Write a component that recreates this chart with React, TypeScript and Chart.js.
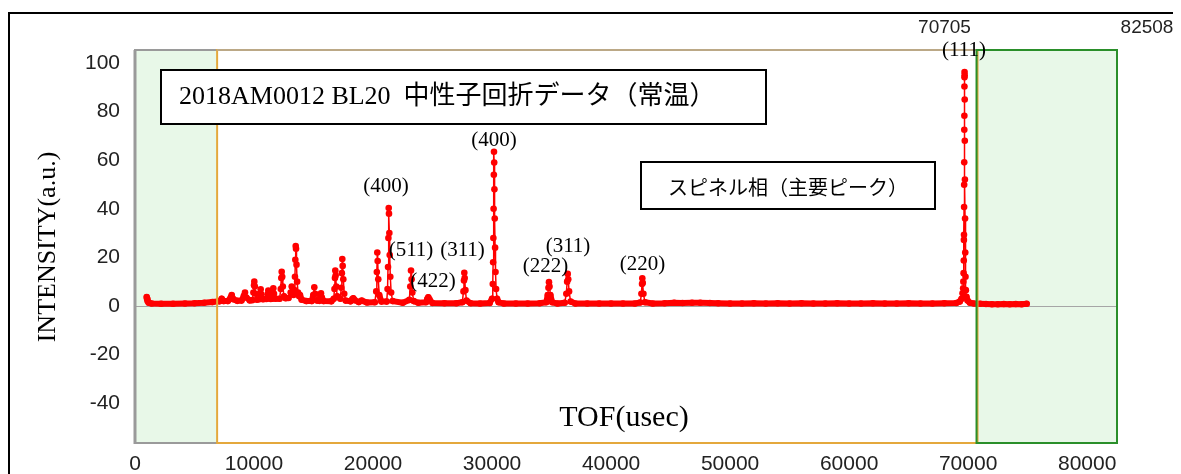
import React, { useEffect, useRef } from "react";
import { Chart, registerables } from "chart.js";

Chart.register(...registerables);

// ---------- data ----------
const tofUsec = [
  983, 1010, 1060, 1150, 1400, 2200, 3200, 4200, 5000, 5800, 6500,
  7100, 7285, 7450, 7800, 8050, 8125, 8250, 8600, 8950, 9150, 9242, 9350, 9650,
  9850, 9950, 10000, 10024, 10070, 10130, 10250, 10450, 10520, 10561, 10620, 10750,
  11050, 11150, 11200, 11270, 11400, 11520, 11580, 11620, 11680, 11800,
  12150, 12250, 12290, 12326, 12370, 12420, 12520, 12650, 12900, 13080, 13166, 13250, 13320,
  13400, 13440, 13470, 13502, 13530, 13570, 13620, 13700, 13800, 13863, 14000, 14400,
  14850, 14980, 15065, 15140, 15300, 15500, 15580, 15628, 15700, 15850,
  16500, 16700, 16760, 16800, 16829, 16860, 16910, 16990,
  17250, 17330, 17380, 17418, 17450, 17500, 17580, 17700,
  18100, 18250, 18342, 18450, 18800, 19047, 19500,
  20150, 20270, 20320, 20358, 20390, 20440, 20520, 20700,
  21150, 21220, 21260, 21290, 21316, 21340, 21370, 21400, 21450, 21520, 21650,
  22500, 23050, 23130, 23190, 23240, 23300, 23420, 23800,
  24450, 24560, 24643, 24750, 25000, 26000, 27000,
  27500, 27600, 27640, 27668, 27700, 27760, 27850, 28200, 29000,
  29800, 30000, 30060, 30090, 30110, 30130, 30150, 30163, 30180, 30200, 30225, 30255, 30290, 30340, 30420, 30550, 31000,
  32000, 33000, 34000, 34550, 34680, 34740, 34784, 34830, 34900, 35050, 35500,
  36100, 36240, 36310, 36356, 36400, 36470, 36600, 37000,
  38000, 39000, 40000, 41000, 42000, 42450, 42550, 42600, 42624, 42660, 42720, 42850, 43500,
  44500, 45300, 46000, 46800, 47500, 48300, 49000,
  50000, 51000, 52000, 53000, 54000, 55000, 56000, 57000, 58000, 59000,
  60000, 61000, 62000, 63000, 64000, 65000, 66000, 67000, 68000, 69000,
  69300, 69450, 69530, 69580, 69600, 69620, 69635, 69645, 69652, 69660, 69666, 69672, 69678, 69684, 69690, 69695, 69700,
  69706, 69712, 69720, 69730, 69742, 69758, 69780, 69810, 69860, 69950, 70150, 70500,
  71000, 71500, 72000, 72500, 73000, 73500, 74000, 74500, 74920,
];

const intensity = [
  3.7, 3.0, 2.0, 1.3, 1.0, 0.9, 0.9, 1.0, 1.1, 1.3, 1.6,
  1.9, 3.0, 2.0, 2.0, 3.5, 4.5, 2.8, 2.1, 2.2, 4.2, 5.5, 3.5, 2.3,
  2.4, 5.5, 8.5, 10.0, 8.0, 5.0, 2.6, 2.8, 5.0, 6.9, 4.8, 2.8,
  2.9, 4.8, 6.3, 4.2, 2.9, 3.0, 5.5, 7.3, 5.0, 3.0,
  3.0, 7.0, 11.5, 14.1, 12.0, 8.0, 4.0, 3.2, 3.3, 5.5, 8.0, 6.0, 4.5,
  6.5, 12.0, 19.0, 24.7, 23.5, 17.0, 10.0, 5.5, 4.0, 4.5, 2.6, 2.0,
  2.0, 4.5, 7.7, 5.0, 2.2, 2.1, 4.0, 5.2, 3.5, 2.0,
  1.9, 3.0, 7.0, 11.5, 14.6, 12.5, 8.0, 4.0,
  3.0, 7.5, 13.5, 19.3, 16.5, 11.0, 5.0, 2.2,
  1.9, 2.7, 3.2, 2.4, 1.6, 2.2, 1.4,
  1.5, 6.0, 14.0, 22.0, 18.5, 11.0, 4.5, 1.8,
  1.8, 7.0, 16.0, 28.0, 40.3, 38.0, 30.0, 21.0, 12.0, 5.5, 2.0,
  1.3, 2.5, 8.0, 14.6, 11.0, 5.5, 2.0, 1.3,
  1.5, 2.8, 3.6, 2.6, 1.2, 1.1, 1.1,
  1.5, 6.0, 10.5, 13.7, 11.5, 6.5, 2.2, 1.1, 1.0,
  1.2, 3.0, 9.0, 18.0, 28.0, 40.0, 54.0, 63.5, 59.0, 48.0, 36.0, 24.0, 14.0, 7.0, 3.0, 1.5, 1.0,
  1.0, 1.0, 1.1, 1.5, 4.5, 7.5, 9.8, 8.0, 4.5, 1.5, 1.0,
  1.3, 5.0, 10.0, 13.2, 11.0, 6.0, 1.8, 1.0,
  1.0, 1.0, 1.0, 1.0, 1.0, 1.4, 5.0, 9.0, 11.4, 9.5, 5.0, 1.5, 1.0,
  1.1, 1.3, 1.2, 1.35, 1.3, 1.2, 1.1,
  1.0, 1.0, 1.1, 1.0, 1.1, 1.0, 1.1, 1.0, 1.0, 1.1,
  1.0, 1.0, 1.1, 1.0, 1.0, 1.1, 1.0, 1.0, 1.1, 1.2,
  1.8, 3.0, 5.2, 7.3, 10.0, 13.5, 18.7, 27.2, 29.3, 40.7, 49.9, 59.1, 72.5, 78.3, 90.3, 94.1, 96.3,
  95.0, 85.0, 68.0, 52.0, 36.0, 22.0, 12.0, 6.5, 3.8, 2.2, 1.3, 1.0,
  0.9, 0.8, 0.7, 0.7, 0.8, 0.7, 0.8, 0.7, 0.9,
];

const xTicks = [0, 10000, 20000, 30000, 40000, 50000, 60000, 70000, 80000];
const yTicks = [-40, -20, 0, 20, 40, 60, 80, 100];
const xRange = [0, 82508];
const yRange = [-56.4, 105.35];

// analysis window bounds (TOF)
const regionBounds = [0, 6900, 70705, 82508];
const boundLabels = ["70705", "82508"];

const peakLabels = ["(400)", "(400)", "(511)", "(311)", "(422)", "(222)", "(311)", "(220)", "(111)"];
const peakLabelTof = [21089, 30163, 23190, 27517, 25038, 34490, 36381, 42640, 69653];
const peakLabelInt = [49.0, 68.3, 23.0, 23.0, 10.0, 16.2, 24.4, 17.2, 105.3];

const titleText = "2018AM0012 BL20  中性子回折データ（常温）";
const noteText = "スピネル相（主要ピーク）";
const yTitle = "INTENSITY(a.u.)";
const xTitle = "TOF(usec)";

const SERIF = "'Liberation Serif', 'Noto Sans CJK JP', serif";
const SANS = "'Liberation Sans', Arial, sans-serif";

const decorPlugin = {
  id: "decor",
  beforeDatasetsDraw(chart: any) {
    const { ctx, chartArea: a, scales } = chart;
    const x = scales.x, y = scales.y;
    const px = regionBounds.map((v) => x.getPixelForValue(v));
    ctx.save();
    ctx.fillStyle = "#e8f8e8";
    ctx.fillRect(px[0], a.top, px[1] - px[0], a.bottom - a.top);
    ctx.fillRect(px[2], a.top, px[3] - px[2], a.bottom - a.top);
    const y0 = Math.round(y.getPixelForValue(0)) + 0.5;
    ctx.strokeStyle = "#a6a6a6";
    ctx.lineWidth = 1;
    ctx.beginPath();
    ctx.moveTo(a.left, y0);
    ctx.lineTo(a.right, y0);
    ctx.stroke();
    ctx.restore();
  },
  afterDatasetsDraw(chart: any) {
    const { ctx, chartArea: a, scales } = chart;
    const x = scales.x;
    const px = regionBounds.map((v) => x.getPixelForValue(v));
    const h = a.bottom - a.top;
    ctx.save();
    ctx.strokeStyle = "#9a9a9a";
    ctx.lineWidth = 2;
    ctx.strokeRect(a.left, a.top, a.right - a.left, h);
    ctx.lineWidth = 3;
    ctx.beginPath();
    ctx.moveTo(a.left, a.top);
    ctx.lineTo(a.left, a.bottom + 1);
    ctx.stroke();
    ctx.lineWidth = 2;
    ctx.strokeStyle = "#e4a83c";
    ctx.strokeRect(px[1], a.top, px[2] - px[1] + 1, h);
    ctx.strokeStyle = "#bba886";
    ctx.beginPath();
    ctx.moveTo(px[1], a.top);
    ctx.lineTo(px[2], a.top);
    ctx.stroke();
    ctx.strokeStyle = "#2a8f2a";
    ctx.strokeRect(px[2], a.top, px[3] - px[2], h);
    ctx.restore();
  },
  afterDraw(chart: any) {
    const { ctx, scales, width } = chart;
    const x = scales.x, y = scales.y;
    ctx.save();
    ctx.strokeStyle = "#000";
    ctx.lineWidth = 2;
    ctx.beginPath();
    ctx.moveTo(1, chart.height);
    ctx.lineTo(1, 5);
    ctx.lineTo(width, 5);
    ctx.stroke();

    ctx.fillStyle = "#fff";
    ctx.fillRect(153, 62, 605, 54);
    ctx.lineWidth = 2;
    ctx.strokeRect(153, 62, 605, 54);
    ctx.fillStyle = "#000";
    ctx.font = `26px ${SERIF}`;
    ctx.textAlign = "left";
    ctx.textBaseline = "alphabetic";
    ctx.fillText(titleText, 171, 96);

    ctx.fillStyle = "#fff";
    ctx.fillRect(633, 154, 294, 47);
    ctx.strokeRect(633, 154, 294, 47);
    ctx.fillStyle = "#000";
    ctx.font = `20px 'Noto Sans CJK JP', sans-serif`;
    ctx.textAlign = "center";
    ctx.textBaseline = "middle";
    ctx.fillText(noteText, 780, 179);

    ctx.font = `21px ${SERIF}`;
    peakLabels.forEach((t, i) => {
      ctx.fillText(t, x.getPixelForValue(peakLabelTof[i]), y.getPixelForValue(peakLabelInt[i]));
    });

    ctx.font = `19px ${SANS}`;
    ctx.fillStyle = "#222";
    ctx.fillText(boundLabels[0], x.getPixelForValue(regionBounds[2]) - 32, 20);
    ctx.fillText(boundLabels[1], x.getPixelForValue(regionBounds[3]) + 30, 20);

    ctx.fillStyle = "#000";
    ctx.font = `30px ${SERIF}`;
    ctx.fillText(xTitle, 616, 410);
    ctx.translate(40, 239);
    ctx.rotate(-Math.PI / 2);
    ctx.font = `26px ${SERIF}`;
    ctx.fillText(yTitle, 0, 0);
    ctx.restore();
  },
};

export default function App() {
  const ref = useRef<HTMLCanvasElement | null>(null);
  useEffect(() => {
    if (!ref.current) return;
    const points = tofUsec.map((t, i) => ({ x: t, y: intensity[i] }));
    const chart = new Chart(ref.current, {
      type: "line",
      data: {
        datasets: [
          {
            data: points,
            borderColor: "#ff0000",
            backgroundColor: "#ff0000",
            pointBackgroundColor: "#ff0000",
            pointBorderColor: "#ff0000",
            pointRadius: 3.3,
            pointBorderWidth: 0,
            pointHoverRadius: 0,
            borderWidth: 1.5,
            tension: 0,
            borderJoinStyle: "round",
            borderCapStyle: "round",
            segment: {
              borderWidth: (c: any) =>
                Math.max(c.p0.parsed.y, c.p1.parsed.y) < 4.6 ? 6 : 1.5,
            },
          } as any,
        ],
      },
      options: {
        responsive: false,
        animation: false,
        events: [],
        devicePixelRatio: 1,
        layout: { padding: { left: 0, right: 64, top: 42, bottom: 0 } },
        plugins: { legend: { display: false }, tooltip: { enabled: false } },
        scales: {
          x: {
            type: "linear",
            min: xRange[0],
            max: xRange[1],
            grid: { display: false, drawTicks: false },
            border: { display: false },
            afterBuildTicks: (axis: any) => {
              axis.ticks = xTicks.map((v) => ({ value: v }));
            },
            afterFit: (axis: any) => {
              axis.height = 31;
            },
            ticks: {
              padding: 9,
              maxRotation: 0,
              autoSkip: false,
              color: "#222",
              font: { family: SANS, size: 21 },
              callback: (v: any) => String(v),
            },
          },
          y: {
            type: "linear",
            min: yRange[0],
            max: yRange[1],
            grid: { display: false, drawTicks: false },
            border: { display: false },
            afterBuildTicks: (axis: any) => {
              axis.ticks = yTicks.map((v) => ({ value: v }));
            },
            afterFit: (axis: any) => {
              axis.width = 127;
            },
            ticks: {
              padding: 15,
              color: "#222",
              font: { family: SANS, size: 21 },
              callback: (v: any) => String(v),
            },
          },
        },
      },
      plugins: [decorPlugin],
    });
    return () => chart.destroy();
  }, []);
  return (
    <canvas
      ref={ref}
      width={1173}
      height={466}
      style={{ display: "block", width: 1173, height: 466 }}
    />
  );
}
